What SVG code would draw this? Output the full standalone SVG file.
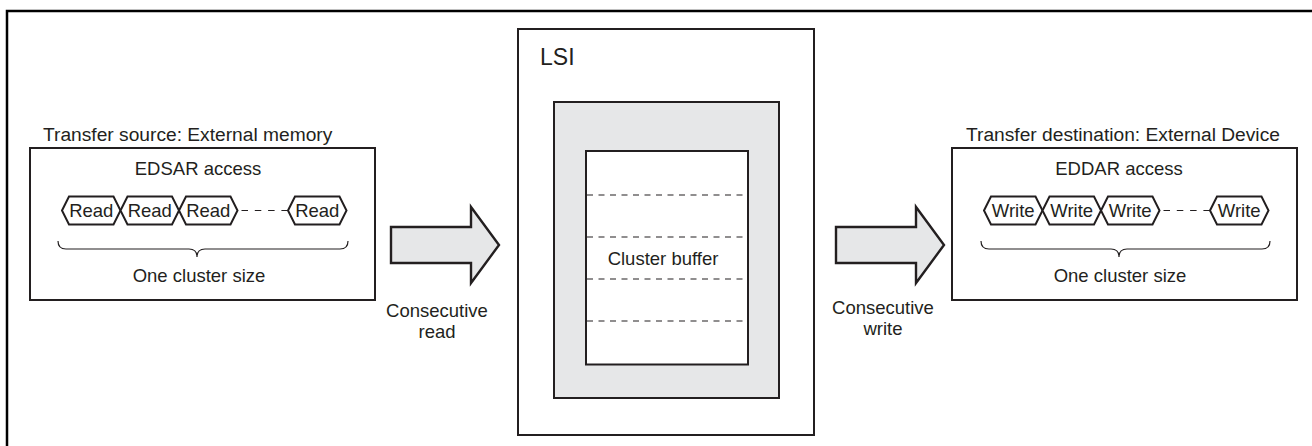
<svg xmlns="http://www.w3.org/2000/svg" width="1312" height="446" viewBox="0 0 1312 446">
<style>
text{font-family:"Liberation Sans",Arial,sans-serif;font-size:18.5px;fill:#231f20}
.title{font-size:19.2px}
.box{fill:#fff;stroke:#231f20;stroke-width:2}
.gray{fill:#e6e7e8;stroke:#231f20;stroke-width:2}
.hex{fill:#fff;stroke:#231f20;stroke-width:2;stroke-linejoin:miter}
.dash{fill:none;stroke:#231f20;stroke-width:1.2;stroke-dasharray:6 5.5}
.dash2{fill:none;stroke:#231f20;stroke-width:1.2;stroke-dasharray:6.5 6.8}
.brace{fill:none;stroke:#231f20;stroke-width:1.2}
.arrow{fill:#e6e7e8;stroke:#231f20;stroke-width:2.4;stroke-linejoin:miter}
.c{text-anchor:middle}
</style>
<defs>
<polygon id="hx" points="0,0 7,-14 51.5,-14 58.5,0 51.5,14 7,14"/>
</defs>
<path d="M7,446 V11 H1312" fill="none" stroke="#000" stroke-width="2.5"/>

<g id="source">
<text class="title" x="43" y="141">Transfer source: External memory</text>
<rect class="box" x="30" y="148" width="345" height="152"/>
<text class="c" x="198" y="175">EDSAR access</text>
<g class="hex">
<use href="#hx" x="62" y="210.5"/>
<use href="#hx" x="120.5" y="210.5"/>
<use href="#hx" x="179" y="210.5"/>
<use href="#hx" x="288" y="210.5"/>
</g>
<line class="dash2" x1="241.5" y1="210.5" x2="288" y2="210.5"/>
<text class="c" x="91.25" y="217">Read</text>
<text class="c" x="149.75" y="217">Read</text>
<text class="c" x="208.25" y="217">Read</text>
<text class="c" x="317.25" y="217">Read</text>
<path class="brace" d="M58,241 Q58,249 66,249 H189 Q197,249 197,257 Q197,249 205,249 H340 Q348,249 348,241"/>
<text class="c" x="199" y="282">One cluster size</text>
</g>

<g id="lsi">
<rect class="box" x="518" y="29" width="296" height="406"/>
<text x="540" y="65" style="font-size:23px">LSI</text>
<rect class="gray" x="554" y="102" width="225" height="296"/>
<rect class="box" x="586" y="151" width="162" height="213.5"/>
<line class="dash" x1="587" y1="195" x2="747" y2="195"/>
<line class="dash" x1="587" y1="237" x2="747" y2="237"/>
<line class="dash" x1="587" y1="279" x2="747" y2="279"/>
<line class="dash" x1="587" y1="321" x2="747" y2="321"/>
<text class="c" x="663" y="265">Cluster buffer</text>
</g>

<g id="destination">
<text class="title" x="966" y="141">Transfer destination: External Device</text>
<rect class="box" x="952" y="148" width="345" height="152"/>
<text class="c" x="1119" y="175">EDDAR access</text>
<g class="hex">
<use href="#hx" x="984" y="210.5"/>
<use href="#hx" x="1042.5" y="210.5"/>
<use href="#hx" x="1101" y="210.5"/>
<use href="#hx" x="1210" y="210.5"/>
</g>
<line class="dash2" x1="1163.5" y1="210.5" x2="1210" y2="210.5"/>
<text class="c" x="1013.25" y="217">Write</text>
<text class="c" x="1071.75" y="217">Write</text>
<text class="c" x="1130.25" y="217">Write</text>
<text class="c" x="1239.25" y="217">Write</text>
<path class="brace" d="M981,241 Q981,249 989,249 H1111 Q1119,249 1119,257 Q1119,249 1127,249 H1262 Q1270,249 1270,241"/>
<text class="c" x="1120" y="282">One cluster size</text>
</g>

<g id="connectors">
<polygon class="arrow" points="391,227 471,227 471,207 499,245 471,283 471,263 391,263"/>
<polygon class="arrow" points="836,227 916,227 916,207 944,245 916,283 916,263 836,263"/>
<text class="c" x="437" y="317">Consecutive</text>
<text class="c" x="437" y="338">read</text>
<text class="c" x="883" y="314">Consecutive</text>
<text class="c" x="883" y="335">write</text>
</g>
</svg>
